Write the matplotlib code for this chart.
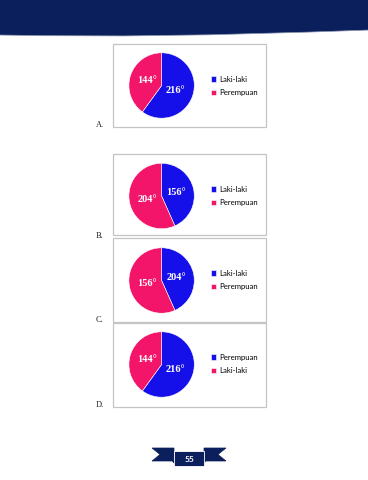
import matplotlib
matplotlib.use("Agg")
import matplotlib.pyplot as plt
import matplotlib.patches as ppatches
from matplotlib.path import Path

# page layout is in pixels of a 368x480 page
W, H = 368, 480

NAVY = "#0b1f5c"
BLUE = "#1510ea"
PINK = "#f2156a"

# chart data for the four answer options
panel_names = ["A.", "B.", "C.", "D."]
sizes_a = [216, 144]
sizes_b = [156, 204]
sizes_c = [156, 204]
sizes_d = [216, 144]
labels_a = ["216°", "144°"]
labels_b = ["156°", "204°"]
labels_c = ["204°", "156°"]
labels_d = ["216°", "144°"]
legend_a = ["Laki-laki", "Perempuan"]
legend_b = ["Laki-laki", "Perempuan"]
legend_c = ["Laki-laki", "Perempuan"]
legend_d = ["Perempuan", "Laki-laki"]
page_number = "55"

panels = [
    (sizes_a, labels_a, legend_a),
    (sizes_b, labels_b, legend_b),
    (sizes_c, labels_c, legend_c),
    (sizes_d, labels_d, legend_d),
]

# box (top, bottom), pie center y, legend center y, label y
boxes = [(44, 127), (154, 235), (238, 322), (323, 407)]
pie_cy = [85.5, 196, 280.5, 364.5]
legend_cy = [86, 196, 280, 364]
name_y = [125, 236, 320, 405]
pie_cx = 161.6
pie_r = 32.7

fig = plt.figure(figsize=(W / 100, H / 100), dpi=100)
page = fig.add_axes([0, 0, 1, 1])
page.set_xlim(0, W)
page.set_ylim(H, 0)
page.axis("off")

# header wave
verts = [(-2, -2), (W + 2, -2), (W + 2, 30), (200, 36), (120, 37), (-2, 35), (-2, -2)]
codes = [Path.MOVETO, Path.LINETO, Path.LINETO, Path.CURVE4, Path.CURVE4,
         Path.CURVE4, Path.CLOSEPOLY]
page.add_patch(ppatches.PathPatch(Path(verts, codes), facecolor=NAVY,
                                  edgecolor="#8d97ad", lw=0.5))

# panel frames and option letters
for (top, bottom), ny, name in zip(boxes, name_y, panel_names):
    page.add_patch(ppatches.Rectangle((113, top), 153, bottom - top,
                                      facecolor="white", edgecolor="#c4c4c4", lw=0.9))
    page.text(96, ny, name, fontsize=6, family="Liberation Serif",
              color="#222222", va="center", ha="left")

for i, (sizes, labels, legend) in enumerate(panels):
    cy = pie_cy[i]
    ax = fig.add_axes([(pie_cx - pie_r) / W, 1 - (cy + pie_r) / H,
                       2 * pie_r / W, 2 * pie_r / H])
    wedges, texts = ax.pie(sizes, labels=labels, colors=[BLUE, PINK],
                           startangle=90, counterclock=False,
                           labeldistance=0.45,
                           wedgeprops=dict(edgecolor="white", linewidth=0.4))
    for t in texts:
        t.set_ha("center")
        t.set_va("center")
        t.set_color("white")
        t.set_fontsize(7.5)
        t.set_fontweight("bold")
        t.set_family("Liberation Serif")
    ax.set_xlim(-1, 1)
    ax.set_ylim(-1, 1)
    ax.axis("off")

    fig.legend(wedges, legend, loc="center left",
               bbox_to_anchor=(211 / W, 1 - legend_cy[i] / H),
               frameon=False, prop={"family": "Lato", "size": 5.6},
               handlelength=0.7, handleheight=0.7, handletextpad=0.4,
               labelspacing=0.85, borderpad=0, borderaxespad=0)

# page number ribbon
left_tail = [(152, 448), (174, 448), (174, 461), (152, 461), (160, 454.5)]
right_tail = [(226, 448), (204, 448), (204, 461), (226, 461), (218, 454.5)]
for tail in (left_tail, right_tail):
    page.add_patch(ppatches.Polygon(tail, closed=True, facecolor=NAVY,
                                    edgecolor=NAVY, lw=0.5))
page.add_patch(ppatches.Polygon([(172, 461), (176, 461), (176, 466)], closed=True,
                                facecolor="#050f33", edgecolor="none"))
page.add_patch(ppatches.Polygon([(206, 461), (202, 461), (202, 466)], closed=True,
                                facecolor="#050f33", edgecolor="none"))
page.add_patch(ppatches.Rectangle((174, 451), 30, 15, facecolor=NAVY,
                                  edgecolor="white", lw=0.6))
page.text(189, 459, page_number, color="white", fontsize=6, fontweight="bold",
          family="Lato", ha="center", va="center")

fig.savefig("out.png", dpi=100)
